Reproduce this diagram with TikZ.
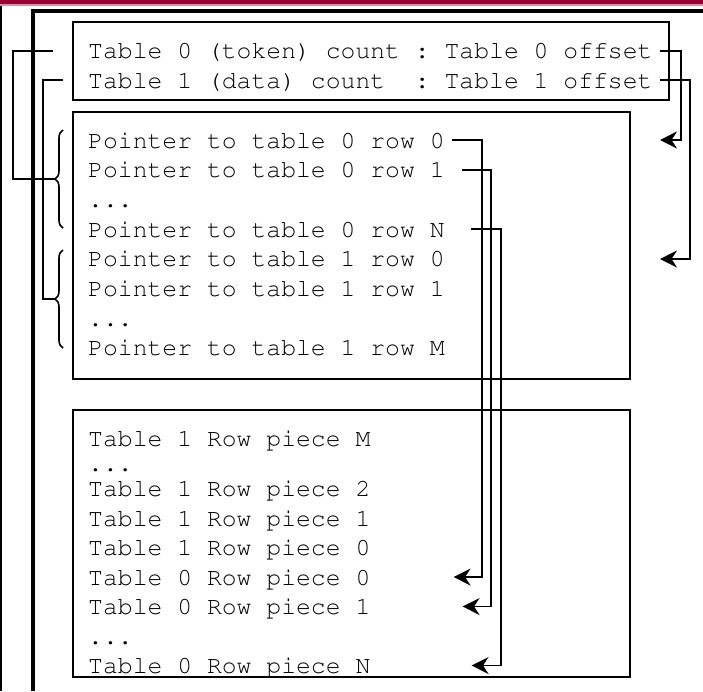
\documentclass[tikz,border=0pt]{standalone}
\usetikzlibrary{arrows.meta,calc,decorations.pathreplacing}
\definecolor{barred}{RGB}{150,0,50}
\definecolor{barpink}{RGB}{225,140,165}
% Courier for all listing text, every space one character wide
\newcommand{\courierfont}{\fontencoding{T1}\fontfamily{pcr}\fontseries{m}\fontshape{n}\fontsize{24.75}{30}\selectfont\frenchspacing}

\begin{document}
\begin{tikzpicture}[x=1pt,y=-1pt,
  box/.style={draw, line width=1.8pt, inner sep=0pt, anchor=north west},
  txt/.style={font=\courierfont, inner sep=0pt,
              text height=16pt, text depth=0pt, anchor=west},
  link/.style={line width=1.6pt},
  arr/.style={link, -{Stealth[length=17pt,width=17pt,inset=5.5pt]}},
  brc/.style={decorate, decoration={brace, amplitude=8pt}, line width=1.6pt}
]
\useasboundingbox (0,0) rectangle (703,691);

% title bar and page frame
\fill[barred] (0,0) rectangle (703,4);
\fill[barpink] (0,4) rectangle (703,5.5);
\draw[line width=1.5pt] (0.75,5.5) -- (0.75,691);
\draw[line width=3.5pt, miter limit=10] (33,691) -- (33,11) -- (703,11);

% the three blocks
\node[box, minimum width=596pt, minimum height=78pt]  (hdr) at (72,21) {};
\node[box, minimum width=557pt, minimum height=267pt] (ptr) at (72,111) {};
\node[box, minimum width=557pt, minimum height=267pt] (dat) at (72,409) {};

% header lines
\node[txt] (h0) at (88,50) {Table 0 (token) count : Table 0 offset};
\node[txt] (h1) at (88,80) {Table 1 (data) count\ \ : Table 1 offset};

% pointer table
\node[txt] (p00) at (88,140)   {Pointer to table 0 row 0};
\node[txt] (p01) at (88,169.7) {Pointer to table 0 row 1};
\node[txt] (pd0) at (88,199.4) {...};
\node[txt] (p0N) at (88,229.1) {Pointer to table 0 row N};
\node[txt] (p10) at (88,258.8) {Pointer to table 1 row 0};
\node[txt] (p11) at (88,288.5) {Pointer to table 1 row 1};
\node[txt] (pd1) at (88,318.2) {...};
\node[txt] (p1M) at (88,347.9) {Pointer to table 1 row M};

% row pieces
\node[txt] (t1M) at (88,438) {Table 1 Row piece M};
\node[txt] (td1) at (88,463) {...};
\node[txt] (t12) at (88,488.5) {Table 1 Row piece 2};
\node[txt] (t11) at (88,518) {Table 1 Row piece 1};
\node[txt] (t10) at (88,547.5) {Table 1 Row piece 0};
\node[txt] (t00) at (88,577) {Table 0 Row piece 0};
\node[txt] (t01) at (88,606.5) {Table 0 Row piece 1};
\node[txt] (td0) at (88,636) {...};
\node[txt] (t0N) at (88,665.5) {Table 0 Row piece N};

% braces grouping the pointer rows
\draw[brc] (63,228) -- (63,130);
\draw[brc] (63,348) -- (63,250);
\coordinate (b0) at (55,179);
\coordinate (b1) at (55,299);

% counts lead to the pointer groups
\draw[link] ($(h0.west)+(-35,1)$) -- ++(-40,0) |- (b0);
\draw[link] ($(h1.west)+(-25,0)$) -- ++(-20,0) |- (b1);

% offsets point at the first row of each group
\coordinate (o0) at (660,140);
\coordinate (o1) at (660,259);
\draw[arr] ($(h0.east)+(7,1)$) -- ++(21,0) |- (o0);
\draw[arr] ($(h1.east)+(7,0)$) -- ++(30,0) |- (o1);

% row pointers lead to their row pieces
\coordinate (r0) at ($(t00.east)+(83,0)$);
\coordinate (r1) at ($(t01.east)+(92,0)$);
\coordinate (rN) at ($(t0N.east)+(101,0)$);
\draw[arr] ($(p00.east)+(7,0)$) -- ++(30,0) |- (r0);
\draw[arr] ($(p01.east)+(17,0)$) -- ++(29,0) |- (r1);
\draw[arr] ($(p0N.east)+(26,0)$) -- ++(30,0) |- (rN);
\end{tikzpicture}
\end{document}
